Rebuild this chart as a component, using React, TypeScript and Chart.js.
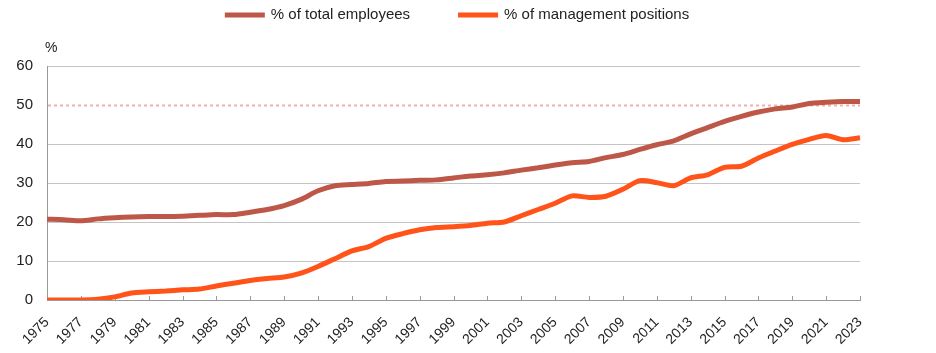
import React, { useEffect, useRef } from "react";
import { Chart, registerables } from "chart.js";

Chart.register(...registerables);

const years = [
  "1975", "1976", "1977", "1978", "1979", "1980", "1981", "1982", "1983", "1984",
  "1985", "1986", "1987", "1988", "1989", "1990", "1991", "1992", "1993", "1994",
  "1995", "1996", "1997", "1998", "1999", "2000", "2001", "2002", "2003", "2004",
  "2005", "2006", "2007", "2008", "2009", "2010", "2011", "2012", "2013", "2014",
  "2015", "2016", "2017", "2018", "2019", "2020", "2021", "2022", "2023",
];

const totalEmployees = [
  20.7, 20.6, 20.3, 20.8, 21.1, 21.3, 21.4, 21.4, 21.5, 21.7,
  21.9, 21.9, 22.5, 23.2, 24.2, 25.8, 28.0, 29.3, 29.6, 29.9,
  30.4, 30.5, 30.7, 30.8, 31.3, 31.8, 32.1, 32.6, 33.3, 33.9,
  34.6, 35.2, 35.5, 36.5, 37.3, 38.6, 39.8, 40.8, 42.6, 44.2,
  45.8, 47.1, 48.2, 49.0, 49.5, 50.4, 50.7, 50.9, 50.9,
];

const managementPositions = [
  0.0, 0.0, 0.0, 0.2, 0.8, 1.8, 2.1, 2.3, 2.6, 2.8,
  3.6, 4.3, 5.0, 5.5, 5.9, 6.9, 8.6, 10.6, 12.6, 13.7,
  15.8, 17.0, 18.0, 18.6, 18.8, 19.1, 19.7, 20.0, 21.6, 23.2,
  24.8, 26.7, 26.3, 26.6, 28.4, 30.6, 30.1, 29.3, 31.3, 32.1,
  34.0, 34.3, 36.4, 38.2, 39.9, 41.2, 42.2, 41.1, 41.6,
];

const seriesNames = ["% of total employees", "% of management positions"];
const seriesColors = ["#BD5848", "#FF5319"];
const referenceValue = 50;
const yMin = 0;
const yMax = 60;
const yStep = 10;
const yUnit = "%";

const FONT = "'Liberation Sans', Arial, Helvetica, sans-serif";

const decorPlugin = {
  id: "decor",
  beforeDatasetsDraw(chart: any) {
    const { ctx, chartArea, scales } = chart;
    const x = scales.x;
    const y = scales.y;
    ctx.save();
    // inward tick marks at labelled years
    ctx.strokeStyle = "#9a9a9a";
    ctx.lineWidth = 1;
    for (let i = 0; i < years.length; i += 2) {
      const px = Math.round(x.getPixelForValue(i)) + 0.5;
      ctx.beginPath();
      ctx.moveTo(px, chartArea.bottom);
      ctx.lineTo(px, chartArea.bottom - 4);
      ctx.stroke();
    }
    // reference line at 50
    const ry = Math.round(y.getPixelForValue(referenceValue)) + 0.5;
    ctx.strokeStyle = "#FFFFFF";
    ctx.lineWidth = 2;
    ctx.beginPath();
    ctx.moveTo(chartArea.left + 1, ry);
    ctx.lineTo(chartArea.right, ry);
    ctx.stroke();
    ctx.strokeStyle = "#F4AFAA";
    ctx.setLineDash([3, 3]);
    ctx.beginPath();
    ctx.moveTo(chartArea.left + 1, ry);
    ctx.lineTo(chartArea.right, ry);
    ctx.stroke();
    ctx.restore();
  },
  afterDraw(chart: any) {
    const { ctx, chartArea } = chart;
    ctx.save();
    // unit label
    ctx.font = `14px ${FONT}`;
    ctx.fillStyle = "#222";
    ctx.textAlign = "left";
    ctx.textBaseline = "middle";
    ctx.fillText(yUnit, chartArea.left - 2, 48);
    // legend
    ctx.font = `15px ${FONT}`;
    const sw = 40;
    const gap = 6;
    const itemGap = 48;
    const ds = chart.data.datasets;
    const widths = ds.map((d: any) => ctx.measureText(d.label).width);
    let total = 0;
    widths.forEach((w: number, i: number) => {
      total += sw + gap + w + (i < widths.length - 1 ? itemGap : 0);
    });
    let cx = 457 - total / 2;
    const cy = 15;
    ds.forEach((d: any, i: number) => {
      ctx.fillStyle = d.borderColor;
      ctx.fillRect(cx, cy - 2.5, sw, 5);
      cx += sw + gap;
      ctx.fillStyle = "#222";
      ctx.textBaseline = "middle";
      ctx.fillText(d.label, cx, cy);
      cx += widths[i] + itemGap;
    });
    ctx.restore();
  },
};

export default function App() {
  const ref = useRef<HTMLCanvasElement | null>(null);

  useEffect(() => {
    if (!ref.current) return;
    Chart.defaults.font.family = FONT;
    const chart = new Chart(ref.current, {
      type: "line",
      data: {
        labels: years,
        datasets: [
          {
            label: seriesNames[0],
            data: totalEmployees,
            borderColor: seriesColors[0],
            backgroundColor: seriesColors[0],
            borderWidth: 5,
            pointRadius: 0,
            tension: 0.25,
            borderJoinStyle: "round",
          },
          {
            label: seriesNames[1],
            data: managementPositions,
            borderColor: seriesColors[1],
            backgroundColor: seriesColors[1],
            borderWidth: 5,
            pointRadius: 0,
            tension: 0.25,
            borderJoinStyle: "round",
          },
        ],
      },
      options: {
        responsive: false,
        animation: false,
        devicePixelRatio: 1,
        layout: { padding: { top: 66, right: 76, bottom: 0, left: 0 } },
        plugins: {
          legend: { display: false },
          tooltip: { enabled: false },
        },
        scales: {
          x: {
            grid: { display: false },
            border: { display: true, color: "#9a9a9a", width: 1 },
            ticks: {
              autoSkip: false,
              minRotation: 45,
              maxRotation: 45,
              padding: 6,
              color: "#222",
              font: { size: 14, family: FONT },
              callback: (_v: any, i: number) => (i % 2 === 0 ? years[i] : ""),
            },
            afterFit: (s: any) => {
              s.height = 53;
            },
          },
          y: {
            min: yMin,
            max: yMax,
            grid: { color: "#C4C4C4", lineWidth: 1, drawTicks: false },
            border: { display: true, color: "#9a9a9a", width: 1 },
            ticks: {
              stepSize: yStep,
              padding: 14,
              color: "#222",
              font: { size: 15, family: FONT },
            },
            afterFit: (s: any) => {
              s.width = 47;
            },
          },
        },
      },
      plugins: [decorPlugin],
    });
    return () => chart.destroy();
  }, []);

  return (
    <div style={{ position: "absolute", left: 0, top: 0, width: 936, height: 353, background: "#fff" }}>
      <canvas ref={ref} width={936} height={353} style={{ width: 936, height: 353, display: "block" }} />
    </div>
  );
}
